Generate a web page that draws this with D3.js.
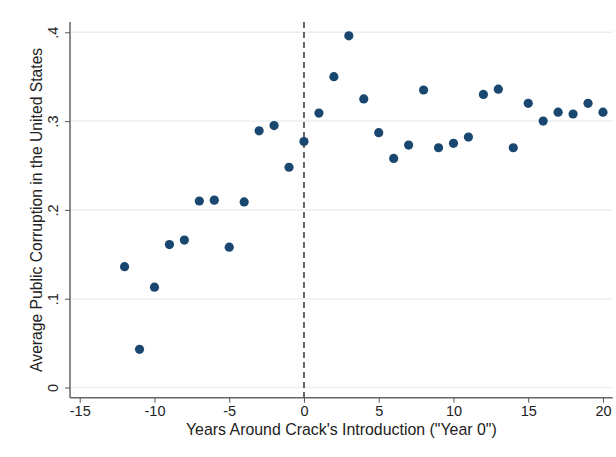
<!DOCTYPE html>
<html>
<head>
<meta charset="utf-8">
<script src="https://cdn.jsdelivr.net/npm/d3@7"></script>
<style>
  body { margin: 0; background: #fff; }
  svg { font-family: "Liberation Sans", Arial, sans-serif; }
</style>
</head>
<body>
<svg id="chart" width="616" height="457"></svg>
<script>
// years relative to crack's introduction
const years = [-12, -11, -10, -9, -8, -7, -6, -5, -4, -3, -2, -1, 0, 1, 2, 3, 4, 5, 6, 7, 8, 9, 10, 11, 12, 13, 14, 15, 16, 17, 18, 19, 20];
const corruption = [0.136, 0.043, 0.113, 0.161, 0.166, 0.210, 0.211, 0.158, 0.209, 0.289, 0.295, 0.248, 0.277, 0.309, 0.350, 0.396, 0.325, 0.287, 0.258, 0.273, 0.335, 0.270, 0.275, 0.282, 0.330, 0.336, 0.270, 0.320, 0.300, 0.310, 0.308, 0.320, 0.310];
const xTicks = [-15, -10, -5, 0, 5, 10, 15, 20];
const yTicks = [0, 0.1, 0.2, 0.3, 0.4];
const yTickLabels = ['0', '.1', '.2', '.3', '.4'];

const data = years.map((d, i) => ({ year: d, value: corruption[i] }));

const margin = { left: 70, right: 3.3, top: 22, bottom: 59.3 };
const width = 616, height = 457;
const innerWidth = width - margin.left - margin.right;
const innerHeight = height - margin.top - margin.bottom;

const svg = d3.select('#chart');

const x = d3.scaleLinear().domain([-15.65, 20.65]).range([0, innerWidth]);
const y = d3.scaleLinear().domain([-0.0115, 0.4116]).range([innerHeight, 0]);

const g = svg.append('g').attr('transform', `translate(${margin.left},${margin.top})`);

// gridlines
g.append('g')
  .selectAll('line')
  .data(yTicks)
  .enter()
  .append('line')
  .attr('x1', 0)
  .attr('x2', innerWidth)
  .attr('y1', (d) => y(d))
  .attr('y2', (d) => y(d))
  .attr('stroke', '#e9f0f1')
  .attr('stroke-width', 1.5);

// x axis (plain hyphen for negatives, like the original)
const xAxis = d3.axisBottom(x).tickValues(xTicks).tickSize(5).tickSizeOuter(0).tickPadding(3)
  .tickFormat((d) => String(d));
const xAxisG = g.append('g').attr('transform', `translate(0,${innerHeight})`).call(xAxis);
xAxisG.select('.domain').attr('stroke', '#666').attr('stroke-width', 1.5).attr('d', `M0,0H${innerWidth}`);
xAxisG.selectAll('.tick line').attr('stroke', '#555');
xAxisG.selectAll('.tick text')
  .attr('fill', '#222')
  .attr('font-size', 14.5)
  .attr('font-family', '"Liberation Sans", Arial, sans-serif');

// y axis
const yAxis = d3.axisLeft(y).tickValues(yTicks).tickSize(5).tickSizeOuter(0)
  .tickFormat((d, i) => yTickLabels[i]);
const yAxisG = g.append('g').call(yAxis);
yAxisG.select('.domain').attr('stroke', '#666').attr('stroke-width', 1.5).attr('d', `M0,0V${innerHeight}`);
yAxisG.selectAll('.tick line').attr('stroke', '#555');
yAxisG.selectAll('.tick text')
  .attr('fill', '#222')
  .attr('font-size', 14.5)
  .attr('font-family', '"Liberation Sans", Arial, sans-serif')
  .attr('x', null)
  .attr('dy', null)
  .attr('text-anchor', 'middle')
  .attr('transform', 'translate(-12.5,0) rotate(-90)');

// vertical dashed line at year 0
g.append('line')
  .attr('x1', x(0))
  .attr('x2', x(0))
  .attr('y1', 0)
  .attr('y2', innerHeight)
  .attr('stroke', '#666')
  .attr('stroke-width', 2)
  .attr('stroke-dasharray', '6,4');

// points
g.append('g')
  .selectAll('circle')
  .data(data)
  .enter()
  .append('circle')
  .attr('cx', (d) => x(d.year))
  .attr('cy', (d) => y(d.value))
  .attr('r', 4.6)
  .attr('fill', '#1a476f');

// axis titles
svg.append('text')
  .attr('x', margin.left + innerWidth / 2)
  .attr('y', 434.5)
  .attr('text-anchor', 'middle')
  .attr('font-size', 15.9)
  .attr('fill', '#222')
  .text('Years Around Crack\'s Introduction ("Year 0")');

svg.append('text')
  .attr('transform', `translate(41.5,${margin.top + innerHeight / 2}) rotate(-90)`)
  .attr('text-anchor', 'middle')
  .attr('font-size', 15.7)
  .attr('fill', '#222')
  .text('Average Public Corruption in the United States');
</script>
</body>
</html>
